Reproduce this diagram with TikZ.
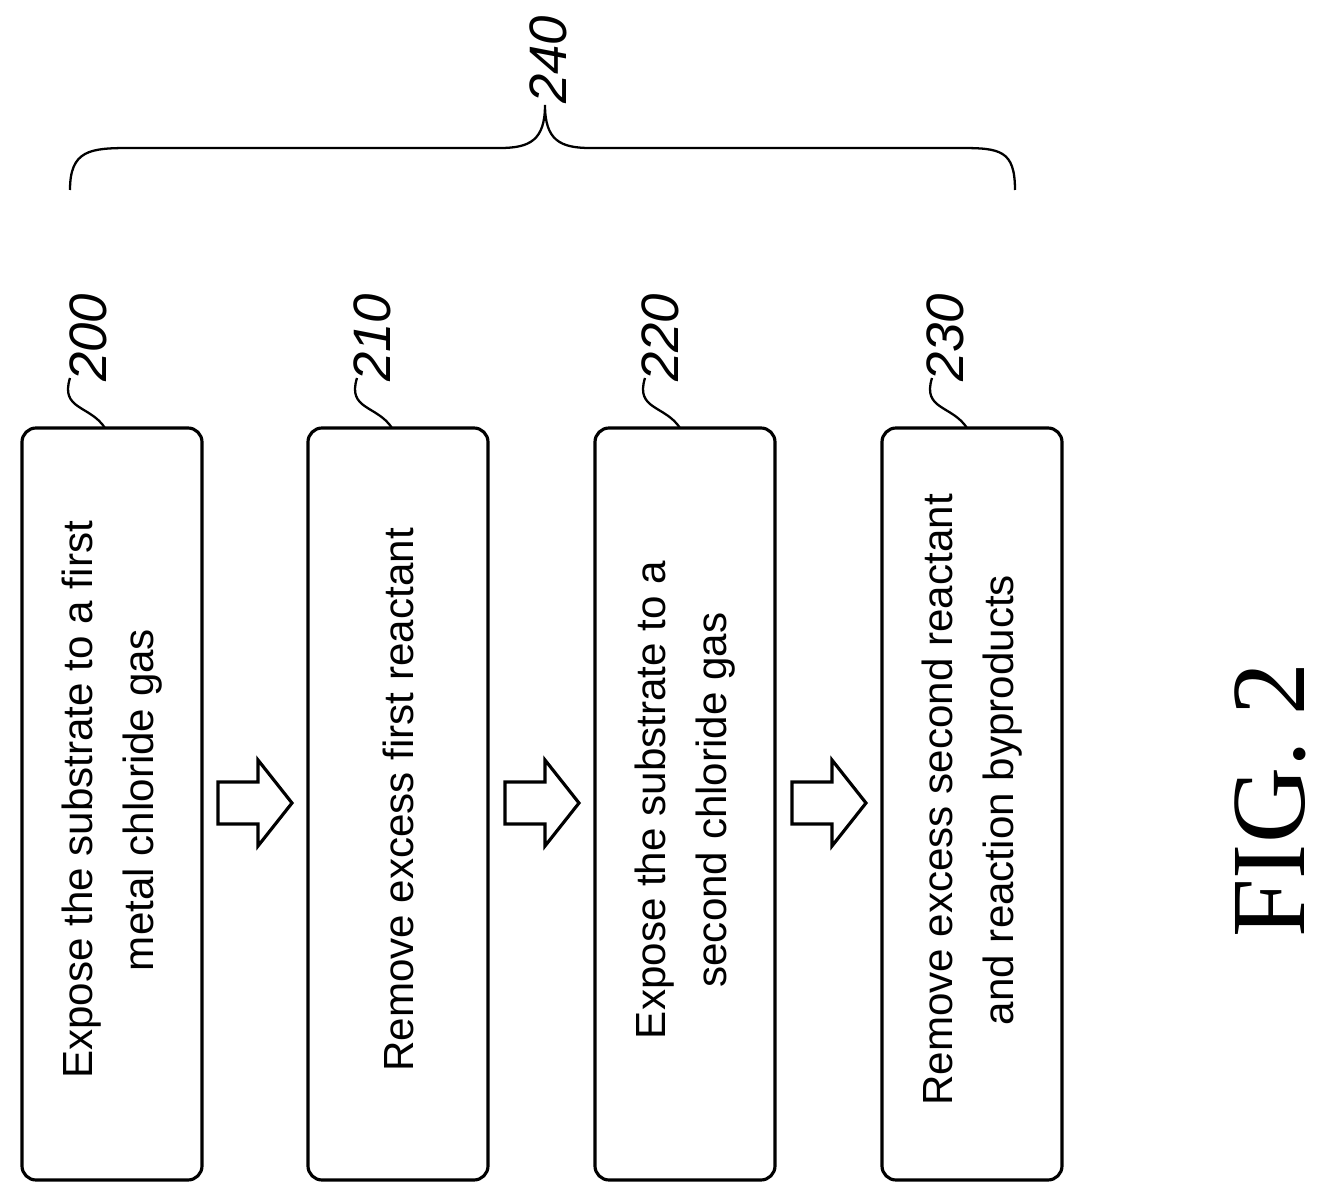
\documentclass[tikz,border=0pt]{standalone}
\usepackage{fontspec}
\setmainfont{Liberation Sans}
\newfontfamily\figfont{Liberation Serif}
\begin{document}
\begin{tikzpicture}[x=0.02cm,y=-0.02cm,
  stepbox/.style={draw,line width=1.8pt,rounded corners=8pt},
  steptext/.style={rotate=90,align=center,font=\fontsize{24}{35}\selectfont},
  refnum/.style={rotate=90,font=\itshape\fontsize{30}{30}\selectfont},
  lead/.style={line width=1.3pt}]
\useasboundingbox (0,0) rectangle (1330,1203);
% boxes
\draw[stepbox] (22,428) rectangle (202,1180);
\draw[stepbox] (308,428) rectangle (488,1180);
\draw[stepbox] (595,428) rectangle (775,1180);
\draw[stepbox] (882,428) rectangle (1062,1180);
\node[steptext] at (112,800) (a) {Expose the substrate to a first\\metal chloride gas};
\node[steptext] at (398,800) (b) {Remove excess first reactant};
\node[steptext] at (685,800) (c) {Expose the substrate to a\\second chloride gas};
\node[steptext] at (972,800) (d) {Remove excess second reactant\\and reaction byproducts};
% reference numbers
\node[refnum] at (88,338) (n200) {200};
\node[refnum] at (372,338) (n210) {210};
\node[refnum] at (660,338) (n220) {220};
\node[refnum] at (945,338) (n230) {230};
\node[refnum] at (548,60) (n240) {240};
\foreach \x in {105,392,680,967}
  \draw[lead] (\x,428) .. controls (\x-15,405) and (\x-45,410) .. (\x-35,378);
% brace
\draw[lead] (70,190) .. controls (70,150) and (90,148) .. (130,148) -- (500,148)
  .. controls (530,148) and (545,140) .. (545,105)
  .. controls (545,140) and (560,148) .. (590,148) -- (960,148)
  .. controls (1000,148) and (1015,150) .. (1015,190);
% block arrows
\foreach \x in {218,505,792}
  \draw[line width=1.8pt,line join=miter] (\x,782) -- (\x+40,782) -- (\x+40,760) -- (\x+74,803)
    -- (\x+40,846) -- (\x+40,824) -- (\x,824) -- cycle;
\node[rotate=90,font=\figfont\fontsize{60}{60}\selectfont] at (1270,800) (fig) {FIG. 2};
\end{tikzpicture}
\end{document}
